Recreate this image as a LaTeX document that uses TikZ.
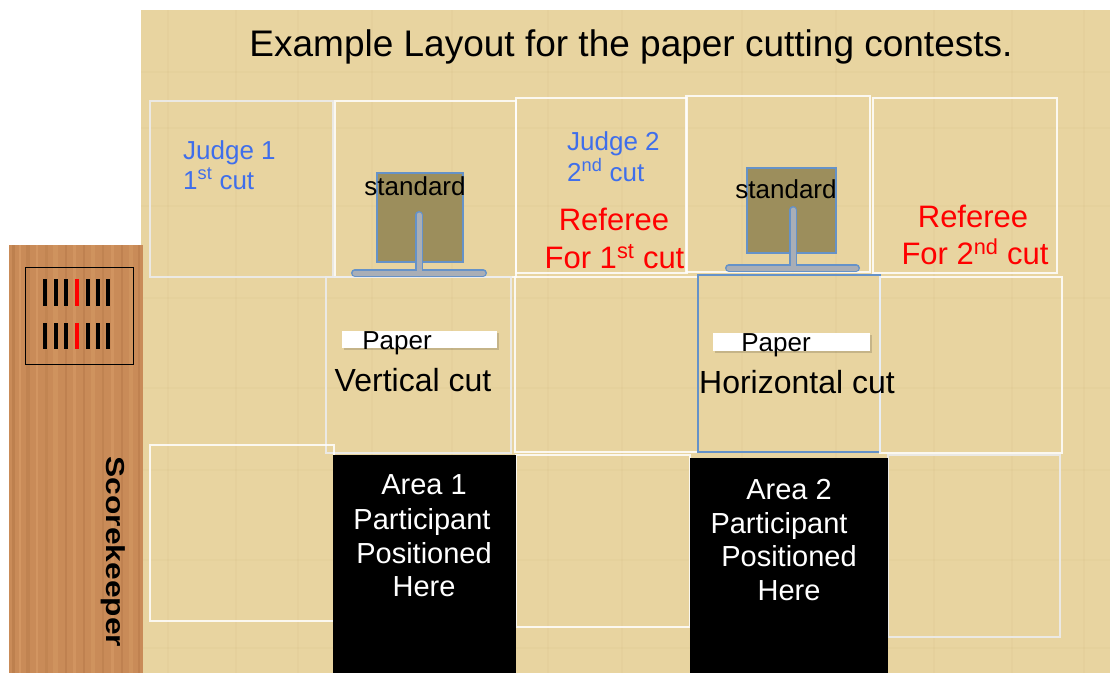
\documentclass[tikz,border=0pt]{standalone}
\usepackage{fontspec}
\setmainfont{Liberation Sans}
\definecolor{parch}{HTML}{E8D4A0}
\definecolor{parchdark}{HTML}{B89A5E}
\definecolor{wood}{HTML}{C98B58}
\definecolor{wooddark}{HTML}{A86D3E}
\definecolor{woodlight}{HTML}{DDA26C}
\definecolor{olive}{HTML}{9C8E5C}
\definecolor{stdblue}{HTML}{6592C8}
\definecolor{stemgray}{HTML}{A9AEB6}
\definecolor{judgeblue}{HTML}{3F6EEB}
\definecolor{refred}{HTML}{FF0000}
\tikzset{
  cell/.style={draw=white, draw opacity=0.85, line width=1.5pt, inner sep=0pt},
  greycell/.style={draw=white!85!gray, draw opacity=0.9, line width=1.5pt, inner sep=0pt},
  bluecell/.style={draw=stdblue, line width=1.5pt, inner sep=0pt},
  blackarea/.style={fill=black, inner sep=0pt},
  stdsquare/.style={fill=olive, draw=stdblue, line width=1.5pt, inner sep=0pt},
  paperstrip/.style={fill=white, inner sep=0pt},
  judge/.style={text=judgeblue, font=\fontsize{26}{30}\selectfont, inner sep=0pt, anchor=base west},
  referee/.style={text=refred, font=\fontsize{31}{37}\selectfont, inner sep=0pt, anchor=base},
  stdtext/.style={font=\fontsize{26}{30}\selectfont, inner sep=0pt, anchor=base},
  cuttext/.style={font=\fontsize{32}{36}\selectfont, inner sep=0pt, anchor=base},
  areatext/.style={text=white, font=\fontsize{29}{34}\selectfont, inner sep=0pt, anchor=base},
  stemout/.style={draw=stdblue, line width=8pt, line cap=round},
  stemin/.style={draw=stemgray, line width=5pt, line cap=round},
  tally/.style={line width=3.5pt},
}
\begin{document}
\begin{tikzpicture}[x=1pt,y=-1pt]
\useasboundingbox (0,0) rectangle (1110,673);
\fill[white] (0,0) rectangle (1110,673);
% parchment background
\fill[parch] (141,10) rectangle (1110,673);
\foreach \x in {168,236,298,372,452,548,622,742,836,934,1012,1084}
  \draw[parchdark, opacity=0.06, line width=1.2pt] (\x,10) -- (\x,673);
\foreach \y in {72,128,206,298,388,470,560,648}
  \draw[parchdark, opacity=0.05, line width=1.2pt] (141,\y) -- (1110,\y);
% wood panel
\fill[wood] (9,245) rectangle (143,673);
\foreach \x/\w/\c/\o in {13/3/wooddark/.35, 20/2/woodlight/.5, 28/4/wooddark/.25, 37/2/woodlight/.45, 46/3/wooddark/.2, 55/5/woodlight/.35, 66/2/wooddark/.3, 74/3/woodlight/.4, 84/2/wooddark/.3, 93/4/woodlight/.35, 103/2/wooddark/.25, 112/3/woodlight/.4, 122/2/wooddark/.3, 131/4/woodlight/.35, 139/2/wooddark/.3}
  \draw[\c, opacity=\o, line width=\w pt] (\x,245) -- (\x,673);
% row 1
\node[greycell, minimum width=183pt, minimum height=176pt] (judgeA) at (241.5,189) {};
\node[cell, minimum width=181pt, minimum height=176pt] (stdB) at (425.5,189) {};
\node[cell, minimum width=171pt, minimum height=175pt] (refC) at (601.5,185.5) {};
\node[cell, minimum width=184pt, minimum height=176pt] (stdD) at (778,184) {};
\node[cell, minimum width=184pt, minimum height=175pt] (refE) at (965,185.5) {};
% row 2
\node[greycell, minimum width=185pt, minimum height=176pt] (vertF) at (418.5,365) {};
\node[cell, minimum width=183pt, minimum height=175pt] (midG) at (606.5,364.5) {};
\node[bluecell, minimum width=182pt, minimum height=177pt] (horH) at (789,363.5) {};
\node[cell, minimum width=182pt, minimum height=176pt] (rightI) at (971,365) {};
% row 3
\node[cell, minimum width=184pt, minimum height=176pt] (leftJ) at (242,533) {};
\node[cell, minimum width=174pt, minimum height=172pt] (midK) at (603,541) {};
\node[greycell, minimum width=172pt, minimum height=182pt] (rightL) at (974,546) {};
% standards
\node[stdsquare, minimum width=86pt, minimum height=89pt] (sq1) at (420,217.5) {};
\node[stdsquare, minimum width=89pt, minimum height=85pt] (sq2) at (791.5,210.5) {};
\coordinate (s1top) at (419,215);
\coordinate (s1mid) at (419,273);
\coordinate (s1l) at (355,273);
\coordinate (s1r) at (483,273);
\coordinate (s2top) at (793,210);
\coordinate (s2mid) at (793,268);
\coordinate (s2l) at (729,268);
\coordinate (s2r) at (856,268);
\draw[stemout] (s1top) -- (s1mid) (s1l) -- (s1r);
\draw[stemin] (s1top) -- (s1mid) (s1l) -- (s1r);
\draw[stemout] (s2top) -- (s2mid) (s2l) -- (s2r);
\draw[stemin] (s2top) -- (s2mid) (s2l) -- (s2r);
\node[stdtext] (std1) at (415,195) {standard};
\node[stdtext] (std2) at (786,198) {standard};
% judges and referees
\node[judge] (j1a) at (183,159) {Judge 1};
\node[judge] (j1b) at (183,189) {1\textsuperscript{st} cut};
\node[judge] (j2a) at (567,150) {Judge 2};
\node[judge] (j2b) at (567,181) {2\textsuperscript{nd} cut};
\node[referee] (r1a) at (614,230) {Referee};
\node[referee] (r1b) at (614.5,268) {For 1\textsuperscript{st} cut};
\node[referee] (r2a) at (973,227) {Referee};
\node[referee] (r2b) at (975,264) {For 2\textsuperscript{nd} cut};
% paper strips
\fill[black, opacity=0.15] (344,333) rectangle (499,350);
\node[paperstrip, minimum width=155pt, minimum height=17pt] (strip1) at (419.5,339.5) {};
\fill[black, opacity=0.15] (715,335) rectangle (872,353);
\node[paperstrip, minimum width=157pt, minimum height=18pt] (strip2) at (791.5,342) {};
\node[stdtext] (paper1) at (397,349) {Paper};
\node[stdtext] (paper2) at (776,351) {Paper};
\node[cuttext] (vcut) at (413,391) {Vertical cut};
\node[cuttext] (hcut) at (797,393) {Horizontal cut};
% participant areas
\node[blackarea, minimum width=183pt, minimum height=218pt] (area1) at (424.5,564) {};
\node[blackarea, minimum width=198pt, minimum height=215pt] (area2) at (789,565.5) {};
\node[areatext] (a1l1) at (424,494) {Area 1};
\node[areatext] (a1l2) at (422,529) {Participant};
\node[areatext] (a1l3) at (424,563) {Positioned};
\node[areatext] (a1l4) at (424,596) {Here};
\node[areatext] (a2l1) at (789,499) {Area 2};
\node[areatext] (a2l2) at (779,533) {Participant};
\node[areatext] (a2l3) at (789,566) {Positioned};
\node[areatext] (a2l4) at (789,600) {Here};
% scorekeeper
\node[draw=black, line width=1pt, minimum width=108pt, minimum height=97pt, inner sep=0pt] (tallybox) at (79,315.5) {};
\foreach \x/\c in {45/black,56/black,66/black,77/refred,88/black,98/black,108/black}{
  \draw[tally, \c] (\x,279) -- (\x,306);
  \draw[tally, \c] (\x,323) -- (\x,349);
}
\node[rotate=-90, inner sep=0pt, font=\bfseries\fontsize{26}{26}\selectfont] (scorekeeper) at (113,552) {\scalebox{1.22}[1]{Scorekeeper}};
% title
\node[inner sep=0pt, anchor=base, font=\fontsize{37}{44}\selectfont] (title) at (631,56) {Example Layout for the paper cutting contests.};
\end{tikzpicture}
\end{document}
